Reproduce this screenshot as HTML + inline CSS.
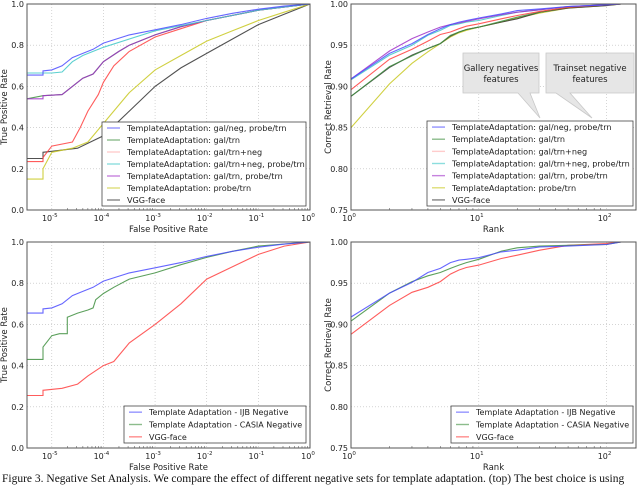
<!DOCTYPE html>
<html><head><meta charset="utf-8"><style>
html,body{margin:0;padding:0;background:#fff;width:640px;height:485px;overflow:hidden}
svg{display:block}
text{font-family:"DejaVu Sans","Liberation Sans",sans-serif;fill:#222}
.cap{font-family:"Liberation Serif",serif;font-size:11.5px;fill:#111}
</style></head><body>
<svg id="fig" width="640" height="485" viewBox="0 0 640 485">
<g id="g1"></g>
<g id="g2"></g>
<g id="g3"></g>
<g id="g4"></g>
<text class="cap" x="2" y="482">Figure 3. Negative Set Analysis. We compare the effect of different negative sets for template adaptation. (top) The best choice is using</text>
</svg>
<script>
// ROC top: x = log10(FPR), y = TPR
const rocX_blue=[-5.48,-5.17,-5.17,-5,-4.8,-4.6,-4.4,-4.2,-4,-3.5,-3,-2.5,-2,-1.5,-1,-0.5,0];
const rocY_blue=[0.655,0.655,0.675,0.68,0.70,0.74,0.76,0.78,0.81,0.85,0.875,0.90,0.93,0.955,0.975,0.99,1];
const rocX_cyan=[-5.48,-5,-4.8,-4.6,-4.4,-4.2,-4,-3.5,-3,-2,-1,0];
const rocY_cyan=[0.665,0.665,0.67,0.72,0.75,0.77,0.79,0.83,0.87,0.92,0.97,1];
const rocX_purple=[-5.48,-5.17,-5.17,-4.8,-4.6,-4.4,-4.2,-4,-3.7,-3.5,-3,-2.5,-2,-1,0];
const rocY_purple=[0.54,0.54,0.555,0.56,0.60,0.64,0.66,0.72,0.77,0.80,0.85,0.89,0.92,0.97,1];
const rocX_green=[-5.48,-5.17,-4.8,-4.6,-4.4,-4.2,-4,-3.7,-3.5,-3,-2.5,-2,-1,0];
const rocY_green=[0.54,0.555,0.56,0.60,0.64,0.66,0.72,0.77,0.80,0.85,0.89,0.92,0.97,1];
const rocX_red=[-5.48,-5.17,-5.17,-5,-4.6,-4.45,-4.3,-4.1,-4,-3.8,-3.5,-3,-2.5,-2,-1,0];
const rocY_red=[0.235,0.235,0.255,0.31,0.33,0.40,0.48,0.56,0.62,0.70,0.77,0.84,0.88,0.92,0.97,1];
const rocX_yellow=[-5.48,-5.17,-5.17,-5,-4.6,-4.3,-4,-3.5,-3,-2.5,-2,-1.5,-1,-0.5,0];
const rocY_yellow=[0.15,0.15,0.20,0.28,0.30,0.33,0.42,0.57,0.68,0.75,0.82,0.87,0.92,0.96,1];
const rocX_black=[-5.48,-5.17,-5.17,-5,-4.5,-4,-3.5,-3,-2.5,-2,-1.5,-1,-0.5,0];
const rocY_black=[0.25,0.25,0.28,0.285,0.30,0.36,0.48,0.60,0.69,0.76,0.83,0.90,0.95,1];
// CMC top
const ranks=[1,2,3,4,5,6,7,8,10,15,20,30,50,100,130];
const cmc_blue=[.909,.940,.952,.963,.970,.975,.978,.980,.983,.988,.992,.994,.997,.999,1];
const cmc_purple=[.909,.943,.958,.966,.972,.975,.977,.979,.982,.987,.990,.993,.997,.999,1];
const cmc_cyan=[.908,.938,.950,.962,.968,.974,.976,.978,.980,.986,.990,.993,.997,.999,1];
const cmc_red=[.896,.933,.945,.955,.963,.966,.970,.973,.976,.982,.986,.991,.996,.999,1];
const cmc_green=[.888,.924,.937,.946,.952,.962,.966,.969,.972,.979,.984,.990,.996,.999,1];
const cmc_black=[.888,.923,.938,.946,.952,.961,.966,.969,.972,.978,.982,.990,.995,.998,1];
const cmc_yellow=[.850,.903,.928,.942,.952,.960,.965,.968,.972,.978,.983,.989,.995,.998,1];
// ROC bottom
const rocBX_blue=[-5.48,-5.17,-5.17,-5,-4.8,-4.6,-4.4,-4.2,-4,-3.5,-3,-2.5,-2,-1.5,-1,-0.5,0];
const rocBY_blue=[0.655,0.655,0.675,0.68,0.70,0.74,0.76,0.78,0.81,0.85,0.875,0.90,0.93,0.955,0.975,0.99,1];
const rocBX_green=[-5.48,-5.17,-5.17,-5,-4.85,-4.7,-4.7,-4.5,-4.3,-4.2,-4.15,-4,-3.8,-3.5,-3,-2.5,-2,-1.5,-1,0];
const rocBY_green=[0.43,0.43,0.49,0.545,0.555,0.555,0.635,0.655,0.67,0.68,0.72,0.75,0.78,0.82,0.85,0.89,0.925,0.955,0.98,1];
const rocBX_red=[-5.48,-5.17,-5.17,-4.8,-4.5,-4.3,-4,-3.8,-3.5,-3,-2.5,-2,-1.5,-1,-0.5,0];
const rocBY_red=[0.255,0.255,0.28,0.29,0.31,0.35,0.40,0.42,0.51,0.60,0.70,0.82,0.88,0.94,0.98,1];
// CMC bottom
const cmcB_blue=[.909,.938,.951,.963,.968,.975,.978,.979,.981,.988,.990,.994,.995,.997,1];
const cmcB_green=[.904,.938,.952,.959,.963,.968,.972,.975,.979,.989,.993,.995,.996,.997,1];
const cmcB_red=[.888,.923,.939,.945,.952,.961,.966,.969,.972,.980,.984,.990,.996,.998,1];

const C={blue:'#4b4bff',green:'#3f8f3f',red:'#ff4040',cyan:'#40c8c8',purple:'#a030c8',yellow:'#c8c820',black:'#333'};
const NS='http://www.w3.org/2000/svg';
function el(p,t,a){const e=document.createElementNS(NS,t);for(const k in a)e.setAttribute(k,a[k]);p.appendChild(e);return e;}

function panel(g,box,xr,yr,xdec,yticks,yfmt,xlabel,ylabel){
  const [L,T,R,B]=box;
  const sx=v=>L+(v-xr[0])/(xr[1]-xr[0])*(R-L);
  const sy=v=>B-(v-yr[0])/(yr[1]-yr[0])*(B-T);
  yticks.forEach(v=>{
    const y=sy(v);
    const gl=el(g,'line',{x1:L,x2:R,y1:y,y2:y,stroke:'#bbb','stroke-width':0.6,'stroke-dasharray':'1,2'});
    
    
    const t=el(g,'text',{x:L-3,y:y+3,'font-size':8,'text-anchor':'end'});t.textContent=yfmt(v);
    
    
  });
  xdec.forEach(d=>{
    const x=sx(d);
    const gl=el(g,'line',{x1:x,x2:x,y1:T,y2:B,stroke:'#bbb','stroke-width':0.6,'stroke-dasharray':'1,2'});
    
    
    const t=el(g,'text',{x:x-2,y:B+11,'font-size':8,'text-anchor':'middle'});
    
    
    t.textContent='10';
    const s=el(t,'tspan',{dy:-4,'font-size':5.5});s.textContent=String(d);
    for(let m=2;m<10;m++){const mx=sx(d+Math.log10(m));if(mx>L&&mx<R){el(g,'line',{x1:mx,x2:mx,y1:B,y2:B-2,stroke:'#444','stroke-width':0.5});}}
  });
  const xl=el(g,'text',{x:(L+R)/2,y:B+22,'font-size':8.5,'text-anchor':'middle'});xl.textContent=xlabel;
  
  
  const yl=el(g,'text',{x:0,y:0,'font-size':8.5,'text-anchor':'middle',transform:`translate(${L-20},${(T+B)/2}) rotate(-90)`});yl.textContent=ylabel;
  
  
  return {sx,sy};
}
function series(g,xs,ys,color,name,sx,sy){
  const pts=xs.map((x,i)=>sx(x).toFixed(1)+','+sy(ys[i]).toFixed(1)).join(' ');
  const p=el(g,'polyline',{points:pts,fill:'none',stroke:color,'stroke-width':1.1,'stroke-opacity':0.85});
  
  
}
function frame(g,box){
  const [L,T,R,B]=box;
  const f=el(g,'rect',{x:L,y:T,width:R-L,height:B-T,fill:'none',stroke:'#555','stroke-width':1});
  
  
}
function legend(g,x,y,w,h,entries,fs){
  const r=el(g,'rect',{x,y,width:w,height:h,fill:'#fff',stroke:'#444','stroke-width':0.8});
  
  
  const step=h/entries.length;
  entries.forEach((e,i)=>{
    const cy=y+step*(i+0.5);
    el(g,'line',{x1:x+5,x2:x+18,y1:cy,y2:cy,stroke:e[1],'stroke-width':1.4,'stroke-opacity':0.6});
    const t=el(g,'text',{x:x+25,y:cy+3,'font-size':fs});t.textContent=e[0];
    
    
  });
}
const lg=v=>Math.log10(v);
const g1=document.getElementById('g1'),g2=document.getElementById('g2'),g3=document.getElementById('g3'),g4=document.getElementById('g4');
const f2=v=>v.toFixed(1), f3=v=>v.toFixed(2);
const ry=[0,0.2,0.4,0.6,0.8,1.0], cy=[0.75,0.8,0.85,0.9,0.95,1.0];

let b1=[27,4,310,210];
let a=panel(g1,b1,[-5.48,0],[0,1],[-5,-4,-3,-2,-1,0],ry,f2,'False Positive Rate','True Positive Rate');
series(g1,rocX_black,rocY_black,C.black,'line-vgg-face',a.sx,a.sy);
series(g1,rocX_yellow,rocY_yellow,C.yellow,'line-probe-trn',a.sx,a.sy);
series(g1,rocX_green,rocY_green,C.green,'line-gal-trn',a.sx,a.sy);
series(g1,rocX_red,rocY_red,C.red,'line-gal-trn-neg',a.sx,a.sy);
series(g1,rocX_purple,rocY_purple,C.purple,'line-gal-trn-probe-trn',a.sx,a.sy);
series(g1,rocX_cyan,rocY_cyan,C.cyan,'line-gal-trn-neg-probe-trn',a.sx,a.sy);
series(g1,rocX_blue,rocY_blue,C.blue,'line-gal-neg-probe-trn',a.sx,a.sy);
frame(g1,b1);
const ent7=[['TemplateAdaptation: gal/neg, probe/trn',C.blue],['TemplateAdaptation: gal/trn',C.green],['TemplateAdaptation: gal/trn+neg','#ffaaaa'],['TemplateAdaptation: gal/trn+neg, probe/trn',C.cyan],['TemplateAdaptation: gal/trn, probe/trn',C.purple],['TemplateAdaptation: probe/trn',C.yellow],['VGG-face',C.black]];
legend(g1,102,122,204,84,ent7,8.1);

let b2=[351,4,636,210];
a=panel(g2,b2,[0,lg(170)],[0.75,1],[0,1,2],cy,f3,'Rank','Correct Retrieval Rate');
const lr=ranks.map(lg);
series(g2,lr,cmc_yellow,C.yellow,'line-probe-trn',a.sx,a.sy);
series(g2,lr,cmc_black,C.black,'line-vgg-face',a.sx,a.sy);
series(g2,lr,cmc_green,C.green,'line-gal-trn',a.sx,a.sy);
series(g2,lr,cmc_red,C.red,'line-gal-trn-neg',a.sx,a.sy);
series(g2,lr,cmc_cyan,C.cyan,'line-gal-trn-neg-probe-trn',a.sx,a.sy);
series(g2,lr,cmc_purple,C.purple,'line-gal-trn-probe-trn',a.sx,a.sy);
series(g2,lr,cmc_blue,C.blue,'line-gal-neg-probe-trn',a.sx,a.sy);
frame(g2,b2);
function callout(x,y,w,h,tx1,tx2,px,py,l1,l2,name){
  const d=`M${x},${y} H${x+w} V${y+h} H${tx2} L${px},${py} L${tx1},${y+h} H${x} Z`;
  const p=el(g2,'path',{d,fill:'#e6e6e6',stroke:'#c8c8c8','stroke-width':0.8});
  
  
  const t1=el(g2,'text',{x:x+w/2,y:y+h/2-2,'font-size':8.5,'text-anchor':'middle','font-family':'Liberation Sans, sans-serif'});t1.textContent=l1;
  
  
  const t2=el(g2,'text',{x:x+w/2,y:y+h/2+9,'font-size':8.5,'text-anchor':'middle','font-family':'Liberation Sans, sans-serif'});t2.textContent=l2;
  
  
}
callout(463,53,76,40,518,530,540,118,'Gallery negatives','features','gallery-negatives-callout');
callout(546,53,88,40,556,570,592,118,'Trainset negative','features','trainset-negative-callout');
legend(g2,427,121,206,85,ent7,8.1);

let b3=[27,242,310,448];
a=panel(g3,b3,[-5.48,0],[0,1],[-5,-4,-3,-2,-1,0],ry,f2,'False Positive Rate','True Positive Rate');
series(g3,rocBX_red,rocBY_red,C.red,'line-vgg-face',a.sx,a.sy);
series(g3,rocBX_green,rocBY_green,C.green,'line-casia-negative',a.sx,a.sy);
series(g3,rocBX_blue,rocBY_blue,C.blue,'line-ijb-negative',a.sx,a.sy);
frame(g3,b3);
const ent3=[['Template Adaptation - IJB Negative',C.blue],['Template Adaptation - CASIA Negative',C.green],['VGG-face',C.red]];
legend(g3,124,406,182,37,ent3,8);

let b4=[351,242,636,448];
a=panel(g4,b4,[0,lg(170)],[0.75,1],[0,1,2],cy,f3,'Rank','Correct Retrieval Rate');
series(g4,lr,cmcB_red,C.red,'line-vgg-face',a.sx,a.sy);
series(g4,lr,cmcB_green,C.green,'line-casia-negative',a.sx,a.sy);
series(g4,lr,cmcB_blue,C.blue,'line-ijb-negative',a.sx,a.sy);
frame(g4,b4);
legend(g4,451,406,182,37,ent3,8);
</script>
</body></html>
